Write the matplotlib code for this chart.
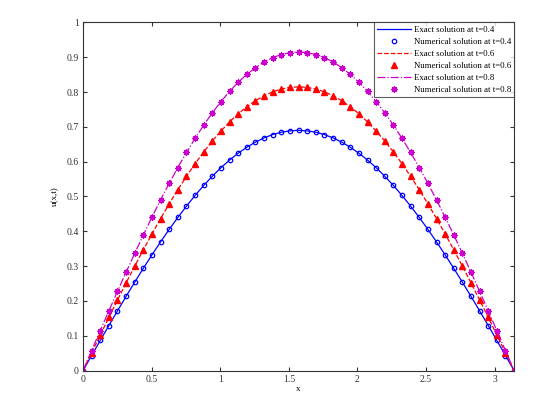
import matplotlib
matplotlib.use("Agg")
import matplotlib.pyplot as plt
import numpy as np

plt.rcParams['font.family'] = ['Liberation Serif', 'DejaVu Serif']
plt.rcParams['mathtext.fontset'] = 'stix'

# x grid: 51 points on [0, pi]
x = np.linspace(0, np.pi, 51)

# u(x,t) (symmetric around pi/2)
u_04 = [0, 0.0433, 0.0865, 0.1293, 0.1716, 0.2132, 0.2540, 0.2938, 0.3324, 0.3697,
        0.4056, 0.4398, 0.4723, 0.5030, 0.5317, 0.5582, 0.5826, 0.6047, 0.6243, 0.6415,
        0.6562, 0.6683, 0.6778, 0.6846, 0.6886, 0.69,
        0.6886, 0.6846, 0.6778, 0.6683, 0.6562, 0.6415, 0.6243, 0.6047, 0.5826, 0.5582,
        0.5317, 0.5030, 0.4723, 0.4398, 0.4056, 0.3697, 0.3324, 0.2938, 0.2540, 0.2132,
        0.1716, 0.1293, 0.0865, 0.0433, 0]
u_06 = [0, 0.0512, 0.1021, 0.1527, 0.2027, 0.2519, 0.3000, 0.3470, 0.3926, 0.4367,
        0.4790, 0.5195, 0.5579, 0.5941, 0.6280, 0.6594, 0.6881, 0.7142, 0.7374, 0.7578,
        0.7751, 0.7894, 0.8006, 0.8086, 0.8134, 0.815,
        0.8134, 0.8086, 0.8006, 0.7894, 0.7751, 0.7578, 0.7374, 0.7142, 0.6881, 0.6594,
        0.6280, 0.5941, 0.5579, 0.5195, 0.4790, 0.4367, 0.3926, 0.3470, 0.3000, 0.2519,
        0.2027, 0.1527, 0.1021, 0.0512, 0]
u_08 = [0, 0.0575, 0.1147, 0.1715, 0.2276, 0.2828, 0.3368, 0.3896, 0.4408, 0.4903,
        0.5378, 0.5832, 0.6264, 0.6670, 0.7050, 0.7402, 0.7726, 0.8018, 0.8279, 0.8507,
        0.8702, 0.8863, 0.8988, 0.9078, 0.9132, 0.915,
        0.9132, 0.9078, 0.8988, 0.8863, 0.8702, 0.8507, 0.8279, 0.8018, 0.7726, 0.7402,
        0.7050, 0.6670, 0.6264, 0.5832, 0.5378, 0.4903, 0.4408, 0.3896, 0.3368, 0.2828,
        0.2276, 0.1715, 0.1147, 0.0575, 0]

fig = plt.figure(figsize=(5.57, 3.93), dpi=100)
ax = fig.add_axes([0.149, 0.057, 0.774, 0.886])

blue = '#0000ff'
red = '#ff0000'
mag = '#cc00cc'

ax.plot(x, u_04, '-', color=blue, lw=0.9, label='Exact solution at t=0.4')
ax.plot(x, u_04, 'o', color=blue, mfc='none', ms=3.2, mew=0.9, linestyle='none',
        label='Numerical solution at t=0.4')
ax.plot(x, u_06, '--', color=red, lw=0.9, label='Exact solution at t=0.6')
ax.plot(x, u_06, '^', color=red, ms=4, linestyle='none', label='Numerical solution at t=0.6')
ax.plot(x, u_08, '-.', color=mag, lw=0.9, label='Exact solution at t=0.8')
ax.plot(x, u_08, marker=(8, 2, 0), color=mag, ms=4.5, mew=0.9, linestyle='none',
        label='Numerical solution at t=0.8')

ax.set_xlim(0, np.pi)
ax.set_ylim(0, 1)
ax.set_xticks([0, 0.5, 1, 1.5, 2, 2.5, 3])
ax.set_xticklabels(['0', '0.5', '1', '1.5', '2', '2.5', '3'])
ax.set_yticks(np.arange(0, 1.01, 0.1))
ax.set_yticklabels(['0', '0.1', '0.2', '0.3', '0.4', '0.5', '0.6', '0.7', '0.8', '0.9', '1'])
ax.tick_params(direction='in', top=True, right=True, labelsize=7, length=3,
               colors='#333333', pad=3)
for s in ax.spines.values():
    s.set_color('#333333')
    s.set_linewidth(0.8)

ax.set_xlabel('x', fontsize=6.5, labelpad=1)
ax.set_ylabel('u(x,t)', fontsize=6.5, labelpad=5)

leg = ax.legend(loc='upper right', fontsize=6.3, frameon=True, fancybox=False,
                edgecolor='#333333', borderaxespad=0, handlelength=3.9,
                labelspacing=0.45, borderpad=0.35, handletextpad=0.3)
leg.get_frame().set_linewidth(0.8)

fig.savefig('out.png', dpi=100)
